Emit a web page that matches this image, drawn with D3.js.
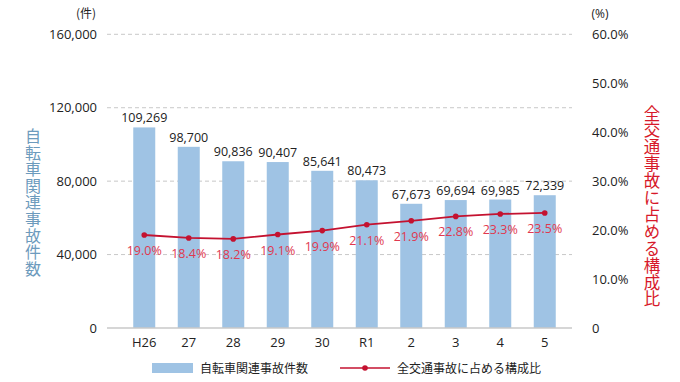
<!DOCTYPE html>
<html><head><meta charset="utf-8">
<script src="https://cdn.jsdelivr.net/npm/d3@7"></script>
<style>
html,body{margin:0;padding:0;background:#fff;}
svg{display:block;font-family:"Noto Sans CJK JP","Noto Sans",sans-serif;}
</style></head>
<body><svg id="c" width="680" height="382"></svg>
<script>
const categories = ["H26","27","28","29","30","R1","2","3","4","5"];
const accidents = [109269,98700,90836,90407,85641,80473,67673,69694,69985,72339];
const shares = [19.0,18.4,18.2,19.1,19.9,21.1,21.9,22.8,23.3,23.5];
const leftTicks = [0,40000,80000,120000,160000];
const rightTicks = [0,10,20,30,40,50,60];
const leftTitle = "自転車関連事故件数";
const rightTitle = "全交通事故に占める構成比";
const legendBar = "自転車関連事故件数";
const legendLine = "全交通事故に占める構成比";

const svg = d3.select("#c");
const x = d3.scaleBand().domain(categories).range([122,567]).paddingInner(0.5).paddingOuter(0.25);
const y = d3.scaleLinear().domain([0,160000]).range([328,34.3]);
const y2 = d3.scaleLinear().domain([0,60]).range([328,34.3]);
const fmt = d3.format(",");

// gridlines
svg.append("g").selectAll("line").data(leftTicks.filter(d=>d>0)).join("line")
  .attr("x1",107).attr("x2",572).attr("y1",d=>y(d)).attr("y2",d=>y(d))
  .attr("stroke","#c8c8c8").attr("stroke-width",1).attr("stroke-dasharray","4,3");

// bars
const bw = 22;
svg.append("g").selectAll("rect").data(accidents).join("rect")
  .attr("x",(d,i)=>x(categories[i])+x.bandwidth()/2-bw/2)
  .attr("width",bw)
  .attr("y",d=>y(d)).attr("height",d=>y(0)-y(d))
  .attr("fill","#9fc3e4");

// baseline
svg.append("line").attr("x1",107).attr("x2",572).attr("y1",y(0)).attr("y2",y(0))
  .attr("stroke","#c8c8c8").attr("stroke-width",1.5);

// value labels
svg.append("g").selectAll("text").data(accidents).join("text")
  .attr("x",(d,i)=>x(categories[i])+x.bandwidth()/2)
  .attr("y",d=>y(d)-5)
  .attr("text-anchor","middle").attr("font-size",12.5).attr("fill","#222")
  .attr("font-family","'Open Sans',sans-serif")
  .text(d=>fmt(d));

// left axis
const la = svg.append("g").attr("transform","translate(107,0)")
  .call(d3.axisLeft(y).tickValues(leftTicks).tickFormat(d=>fmt(d)).tickSize(0).tickPadding(10));
la.select(".domain").remove();
la.selectAll("text").attr("font-size",13).attr("fill","#222").attr("font-family","'Open Sans',sans-serif");

// right axis
const ra = svg.append("g").attr("transform","translate(572,0)")
  .call(d3.axisRight(y2).tickValues(rightTicks).tickFormat(d=>d===0?"0":d3.format(".1f")(d)+"%").tickSize(0).tickPadding(20));
ra.select(".domain").remove();
ra.selectAll("text").attr("font-size",13).attr("fill","#222").attr("font-family","'Open Sans',sans-serif");

// x axis
const xa = svg.append("g").attr("transform","translate(0,328)")
  .call(d3.axisBottom(x).tickSize(0).tickPadding(10));
xa.select(".domain").remove();
xa.selectAll("text").attr("font-size",13).attr("fill","#222").attr("font-family","'Open Sans',sans-serif");

// line
const line = d3.line().x((d,i)=>x(categories[i])+x.bandwidth()/2).y(d=>y2(d));
svg.append("path").datum(shares).attr("d",line).attr("fill","none")
  .attr("stroke","#c41230").attr("stroke-width",1.8);
svg.append("g").selectAll("circle").data(shares).join("circle")
  .attr("cx",(d,i)=>x(categories[i])+x.bandwidth()/2).attr("cy",d=>y2(d)).attr("r",2.8)
  .attr("fill","#c41230");
svg.append("g").selectAll("text").data(shares).join("text")
  .attr("x",(d,i)=>x(categories[i])+x.bandwidth()/2)
  .attr("y",d=>y2(d)+20)
  .attr("text-anchor","middle").attr("font-size",12.5).attr("fill","#e0384f")
  .attr("font-family","'Open Sans',sans-serif")
  .text(d=>d.toFixed(1)+"%");

// unit labels
svg.append("text").attr("x",86).attr("y",18).attr("text-anchor","middle").attr("font-size",12).attr("fill","#222").text("(件)");
svg.append("text").attr("x",600).attr("y",18).attr("text-anchor","middle").attr("font-size",12).attr("fill","#222").attr("font-family","'Open Sans',sans-serif").text("(%)");

// vertical titles
function vtitle(txt, cx, y0, size, spacing, color){
  svg.append("text").attr("x",cx).attr("y",y0)
    .style("writing-mode","vertical-rl").style("text-orientation","upright")
    .attr("letter-spacing",spacing)
    .attr("font-size",size).attr("fill",color).text(txt);
}
vtitle(leftTitle, 33, 128, 16, 0.6, "#6d9bbd");
vtitle(rightTitle, 652, 105, 16.5, 0.4, "#d7192a");

// legend
svg.append("rect").attr("x",152).attr("y",363).attr("width",41).attr("height",10).attr("fill","#9fc3e4");
svg.append("text").attr("x",200).attr("y",373).attr("font-size",12).attr("fill","#222").text(legendBar);
svg.append("line").attr("x1",340).attr("x2",390).attr("y1",368).attr("y2",368).attr("stroke","#c41230").attr("stroke-width",1.5);
svg.append("circle").attr("cx",365).attr("cy",368).attr("r",2.8).attr("fill","#c41230");
svg.append("text").attr("x",397).attr("y",373).attr("font-size",12).attr("fill","#222").text(legendLine);
</script></body></html>
